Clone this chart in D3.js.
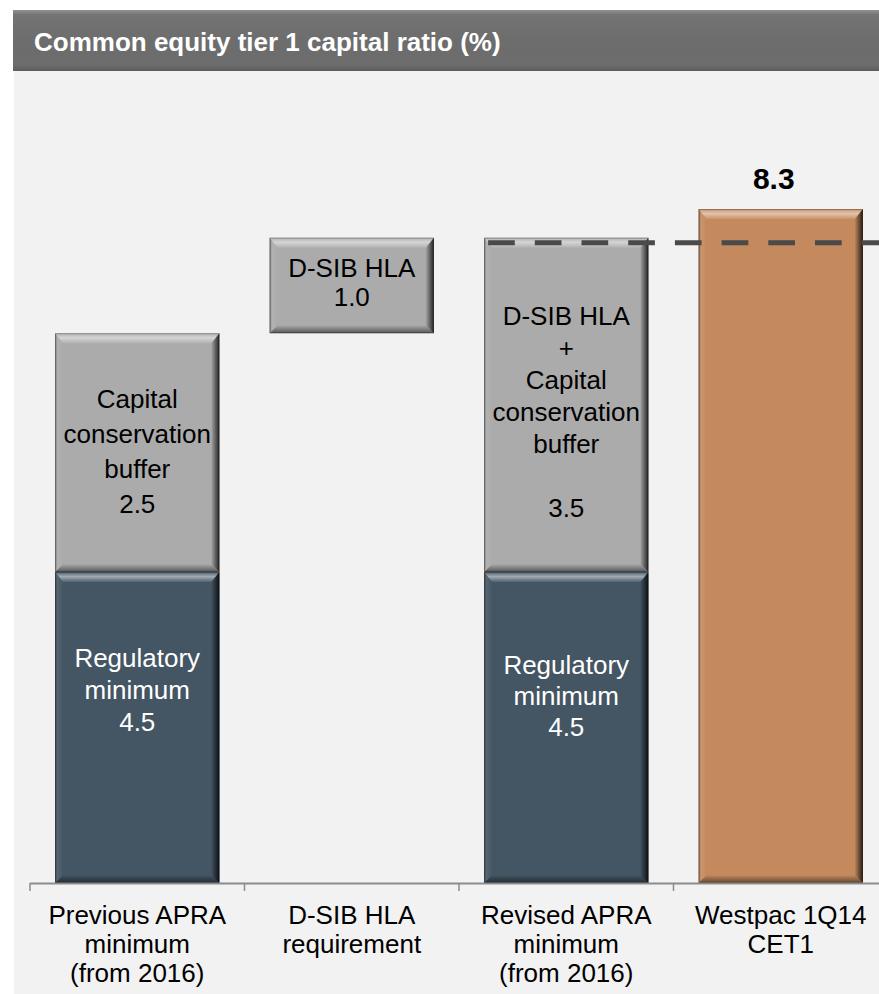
<!DOCTYPE html>
<html><head><meta charset="utf-8">
<script src="https://cdn.jsdelivr.net/npm/d3@7"></script>
<style>body{margin:0;background:#fff}svg{display:block}</style>
</head><body>
<script>
// ---------------- data ----------------
const chartTitle = "Common equity tier 1 capital ratio (%)";
const categories = ["prev", "dsib", "revised", "westpac"];
const categoryLabels = [
  ["Previous APRA", "minimum", "(from 2016)"],
  ["D-SIB HLA", "requirement"],
  ["Revised APRA", "minimum", "(from 2016)"],
  ["Westpac 1Q14", "CET1"]
];
const regulatoryMinimum = [4.5, 0, 4.5, 0];
const bufferBase = [4.5, 7.0, 4.5, 0];
const bufferValues = [2.5, 1.0, 3.5, 0];
const westpacCET1 = [0, 0, 0, 8.3];
const combinedRequirement = 8.0;
const regMinLabels = [["Regulatory", "minimum", "4.5"], null, ["Regulatory", "minimum", "4.5"], null];
const bufferLabels = [
  ["Capital", "conservation", "buffer", "2.5"],
  ["D-SIB HLA", "1.0"],
  ["D-SIB HLA", "+", "Capital", "conservation", "buffer", "", "3.5"],
  null
];
const totalLabels = [null, null, null, "8.3"];

// ---------------- style ----------------
const W = 879, H = 994;
const font = "'Liberation Sans', Arial, Helvetica, sans-serif";
const COL_DARK = "#445664", COL_GRAY = "#ababab", COL_COPPER = "#c48a5e";
const FS = 26;
const bufferLineHeights = [35, 29, 32, 0];
const bufferOffsets = [-1, -3, 7, 0];
const regMinLineHeights = [32, 0, 31, 0];
const regMinOffsets = [-38, 0, -32, 0];

const svg = d3.select("body").append("svg").attr("width", W).attr("height", H);
const defs = svg.append("defs");
function grad(id, vertical, stops) {
  const g = defs.append("linearGradient").attr("id", id)
    .attr("x1", 0).attr("y1", 0).attr("x2", vertical ? 0 : 1).attr("y2", vertical ? 1 : 0);
  stops.forEach(s => g.append("stop").attr("offset", s[0]).attr("stop-color", s[1]).attr("stop-opacity", s[2]));
}
grad("gTop", true, [[0, "#fff", 0.05], [0.45, "#fff", 0.5], [1, "#fff", 0.08]]);
grad("gBottom", true, [[0, "#000", 0.0], [1, "#000", 0.5]]);
grad("gLeft", false, [[0, "#000", 0.35], [0.4, "#fff", 0.08], [1, "#fff", 0.0]]);
grad("gRight", false, [[0, "#000", 0.05], [1, "#000", 0.8]]);
grad("gHeader", true, [[0, "#fff", 0.25], [0.08, "#fff", 0.05], [0.9, "#000", 0.0], [1, "#000", 0.15]]);

// background panel + header
svg.append("rect").attr("x", 14).attr("y", 71).attr("width", W - 14).attr("height", H - 71).attr("fill", "#f2f2f2");
svg.append("rect").attr("x", 13).attr("y", 10).attr("width", W - 13).attr("height", 61).attr("fill", "#6d6d6d");
svg.append("rect").attr("x", 13).attr("y", 10).attr("width", W - 13).attr("height", 61).attr("fill", "url(#gHeader)");
svg.append("text").attr("x", 34).attr("y", 51).attr("fill", "#fff")
  .attr("font-family", font).attr("font-weight", "bold").attr("font-size", 26).text(chartTitle);

// scales
const x = d3.scaleBand().domain(categories).range([30, 888]).paddingInner(0).paddingOuter(0);
const y = d3.scaleLinear().domain([0, 4.5, 8.3]).range([883, 572, 209]);
const barW = x.bandwidth() * 0.766;
const barX = c => x(c) + (x.bandwidth() - barW) / 2;

function bevelRect(g, x0, y0, w, h, fill) {
  const b = Math.min(10, h / 3), bs = 8;
  g.append("rect").attr("x", x0).attr("y", y0).attr("width", w).attr("height", h).attr("fill", fill);
  const x1 = x0 + w, y1 = y0 + h;
  const poly = (pts, f) => g.append("polygon").attr("points", pts.map(p => p.join(",")).join(" ")).attr("fill", f);
  poly([[x0, y0], [x1, y0], [x1 - bs, y0 + b], [x0 + bs, y0 + b]], "url(#gTop)");
  poly([[x0, y1], [x1, y1], [x1 - bs, y1 - bs], [x0 + bs, y1 - bs]], "url(#gBottom)");
  poly([[x0, y0], [x0 + bs, y0 + b], [x0 + bs, y1 - bs], [x0, y1]], "url(#gLeft)");
  poly([[x1, y0], [x1, y1], [x1 - bs, y1 - bs], [x1 - bs, y0 + b]], "url(#gRight)");
  g.append("rect").attr("x", x0 + 0.5).attr("y", y0 + 0.5).attr("width", w - 1).attr("height", h - 1)
    .attr("fill", "none").attr("stroke", "#000").attr("stroke-opacity", 0.25).attr("stroke-width", 1);
}

function multiText(g, cx, cy, lines, lh, color, size) {
  const n = lines.length;
  const t = g.append("text").attr("text-anchor", "middle").attr("font-family", font)
    .attr("font-size", size).attr("fill", color);
  lines.forEach((l, k) => {
    t.append("tspan").attr("x", cx).attr("y", cy + (k - (n - 1) / 2) * lh + size * 0.35).text(l);
  });
}

// segments
const segments = [];
categories.forEach((c, i) => {
  if (regulatoryMinimum[i] > 0) segments.push({ c, i, v0: 0, v1: regulatoryMinimum[i], fill: COL_DARK, labels: regMinLabels[i], color: "#fff", lh: regMinLineHeights[i], off: regMinOffsets[i] });
  if (bufferValues[i] > 0) segments.push({ c, i, v0: bufferBase[i], v1: bufferBase[i] + bufferValues[i], fill: COL_GRAY, labels: bufferLabels[i], color: "#000", lh: bufferLineHeights[i], off: bufferOffsets[i] });
  if (westpacCET1[i] > 0) segments.push({ c, i, v0: 0, v1: westpacCET1[i], fill: COL_COPPER, labels: null });
});

const gBars = svg.append("g");
segments.forEach(s => {
  const g = gBars.append("g");
  const top = y(s.v1), bot = y(s.v0);
  bevelRect(g, barX(s.c), top, barW, bot - top, s.fill);
  if (s.labels) multiText(g, barX(s.c) + barW / 2, (top + bot) / 2 + s.off, s.labels, s.lh, s.color, FS);
});

// total labels
categories.forEach((c, i) => {
  if (totalLabels[i]) {
    svg.append("text").attr("x", x(c) + x.bandwidth() / 2 - 7).attr("y", y(westpacCET1[i]) - 20)
      .attr("text-anchor", "middle").attr("font-family", font).attr("font-weight", "bold")
      .attr("font-size", 30).text(totalLabels[i]);
  }
});

// dashed requirement line
const revX = barX("revised");
svg.append("line").attr("x1", revX + 4).attr("x2", W).attr("y1", y(combinedRequirement) + 5).attr("y2", y(combinedRequirement) + 5)
  .attr("stroke", "#4a4a4a").attr("stroke-width", 5).attr("stroke-dasharray", "26.7,20");

// axis
const axisY = y(0);
const gAx = svg.append("g");
gAx.append("line").attr("x1", x.range()[0]).attr("x2", W).attr("y1", axisY + 0.5).attr("y2", axisY + 0.5)
  .attr("stroke", "#8c8c8c").attr("stroke-width", 2);
categories.forEach(c => {
  gAx.append("line").attr("x1", x(c)).attr("x2", x(c)).attr("y1", axisY).attr("y2", axisY + 8)
    .attr("stroke", "#8c8c8c").attr("stroke-width", 1.5);
});
categories.forEach((c, i) => {
  const t = gAx.append("text").attr("text-anchor", "middle").attr("font-family", font).attr("font-size", FS).attr("fill", "#000");
  categoryLabels[i].forEach((l, k) => {
    t.append("tspan").attr("x", x(c) + x.bandwidth() / 2).attr("y", 924 + k * 29).text(l);
  });
});
</script>
</body></html>
